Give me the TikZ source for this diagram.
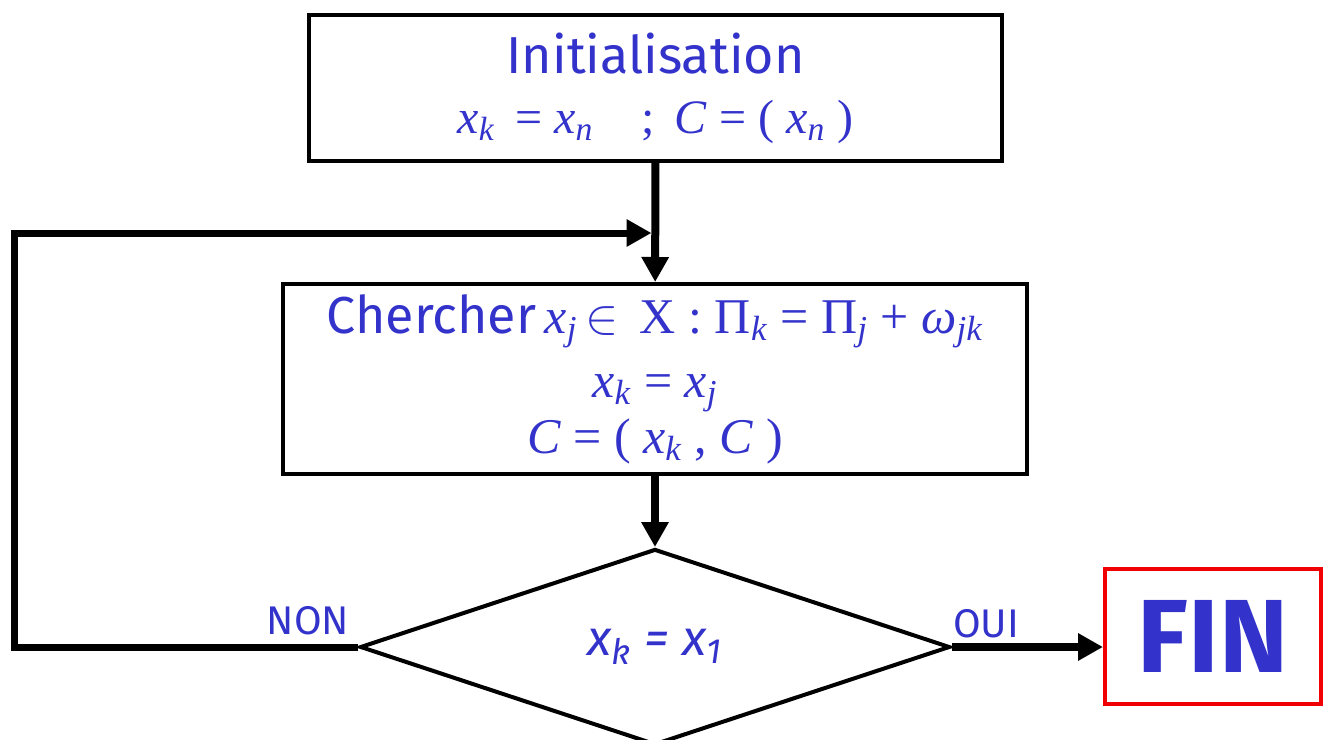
\documentclass[tikz,border=0pt]{standalone}
\usepackage{fontspec}
\setmainfont{Fira Sans}
\newfontfamily\tms{Liberation Serif}
\usetikzlibrary{shapes.geometric, arrows.meta}
\definecolor{txtblue}{RGB}{51,51,204}
\definecolor{finred}{RGB}{240,0,0}
\newcommand\va[1]{\textit{#1}}
\newcommand\sub[1]{\textsubscript{\textit{#1}}}

\begin{document}
\begin{tikzpicture}[x=0.5pt, y=-0.5pt, >={Triangle[length=12.5pt, width=13pt]},
    box/.style={draw, line width=2pt, inner sep=0pt, text=txtblue, align=center},
    flow/.style={line width=4pt},
    lbl/.style={text=txtblue, font=\fontsize{20}{24}\selectfont}]
    \clip (0,0) rectangle (1330,740);

    % Boxes
    \node[box, minimum width=346.5pt, minimum height=73pt, font=\fontsize{26}{30}\selectfont] (init) at (655.5,88)
        {Initialisation\\
         {\fontsize{24}{30}\tms\selectfont \va{x}\sub{k}\, = \va{x}\sub{n}\quad;\, \va{C} = ( \va{x}\sub{n} )}};
    \node[box, minimum width=372pt, minimum height=95pt, font=\fontsize{25}{28}\selectfont] (search) at (655,379)
        {{\fontsize{26}{28}\selectfont Chercher}\,{\tms \va{x}\sub{j}\,$\in$\, X : Π\sub{k} = Π\sub{j} + \va{ω}\sub{jk}}\\[4pt]
         {\tms \va{x}\sub{k} = \va{x}\sub{j}}\\
         {\tms \va{C} = ( \va{x}\sub{k} , \va{C} )}};
    \node[box, diamond, minimum width=295pt, minimum height=98pt] (test) at (655,647)
        {\fontsize{25}{28}\selectfont\itshape x\textsubscript{k} = x\textsubscript{1}};
    \node[box, draw=finred, minimum width=108pt, minimum height=67.5pt] (fin) at (1213,636.5)
        {\fontsize{52}{54}\selectfont\bfseries FIN};

    % Connectors
    \coordinate (back) at (14,233);
    \draw[flow, ->] (init) -- (search);
    \draw[flow, ->] (search) -- (test);
    \draw[line width=3.5pt, ->, shorten >=2pt] (test.west) -| (back) -- (init.south |- back);
    \draw[flow, ->] (test.east) -- (test.east -| fin.west);

    \node[lbl] (non) at (308,621) {NON};
    \node[lbl] (oui) at (986,624) {OUI};
\end{tikzpicture}
\end{document}
